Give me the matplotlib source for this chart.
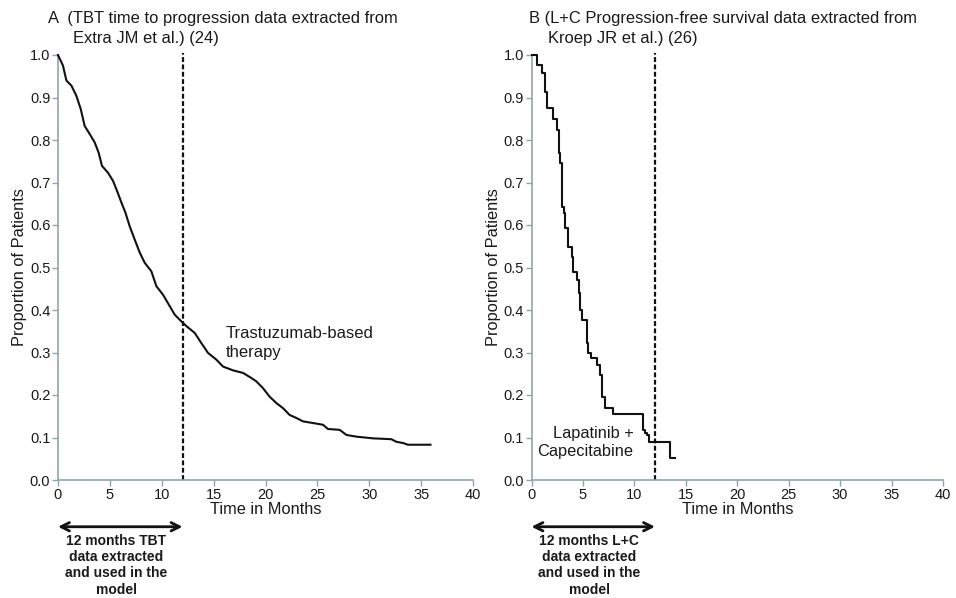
import matplotlib
matplotlib.use("Agg")
import matplotlib.pyplot as plt

plt.rcParams['font.family'] = ['Liberation Sans', 'DejaVu Sans']

# Panel A: trastuzumab-based therapy, time to progression (Extra JM et al.)
tbt_months = [0, 0.48, 0.81, 1.29, 1.77, 2.19, 2.57, 3.06, 3.54, 3.92, 4.24, 4.82,
              5.3, 5.63, 6.11, 6.5, 6.91, 7.39, 7.88, 8.36, 9.0, 9.48, 10.12, 10.77,
              11.25, 11.9, 12.38, 13.18, 13.82, 14.46, 15.27, 15.9, 16.87, 17.83,
              18.64, 19.12, 19.76, 20.4, 21.05, 21.69, 22.33, 22.97, 23.61, 24.58,
              25.54, 26.02, 27.15, 27.8, 28.76, 30.36, 32.13, 32.6, 33.25, 33.73, 35.9]
tbt_surv = [1.0, 0.975, 0.94, 0.928, 0.904, 0.873, 0.833, 0.814, 0.794, 0.77, 0.739, 0.723,
            0.704, 0.684, 0.653, 0.629, 0.597, 0.566, 0.535, 0.511, 0.491, 0.456, 0.436, 0.409,
            0.389, 0.373, 0.362, 0.346, 0.322, 0.299, 0.283, 0.267, 0.258, 0.252,
            0.24, 0.232, 0.216, 0.196, 0.181, 0.169, 0.153, 0.146, 0.138, 0.134,
            0.13, 0.12, 0.118, 0.106, 0.102, 0.098, 0.096, 0.09, 0.087, 0.083, 0.083]

# Panel B: lapatinib + capecitabine, progression-free survival (Kroep JR et al.)
lc_months = [0, 0.57, 0.99, 1.31, 1.47, 2.12, 2.44, 2.7, 2.8, 2.93, 2.99, 3.16, 3.25,
             3.57, 3.9, 4.0, 4.45, 4.6, 4.7, 4.87, 5.36, 5.5, 5.75, 6.33, 6.65, 6.82,
             7.14, 7.94, 10.86, 11.05, 11.24, 11.4, 13.45, 13.93]
lc_surv = [1.0, 0.976, 0.957, 0.914, 0.875, 0.849, 0.824, 0.77, 0.745, 0.729, 0.643, 0.628,
           0.592, 0.549, 0.525, 0.49, 0.47, 0.441, 0.40, 0.376, 0.322, 0.30, 0.286, 0.27,
           0.248, 0.196, 0.169, 0.155, 0.118, 0.11, 0.106, 0.09, 0.051, 0.051]

cutoff_month = 12
x_ticks = list(range(0, 41, 5))
y_ticks = [i / 10 for i in range(11)]

panels = [
    dict(t=tbt_months, s=tbt_surv, style="default",
         title1="A  (TBT time to progression data extracted from",
         title2="Extra JM et al.) (24)",
         label="Trastuzumab-based\ntherapy",
         note="12 months TBT\ndata extracted\nand used in the\nmodel"),
    dict(t=lc_months, s=lc_surv, style="steps-post",
         title1="B (L+C Progression-free survival data extracted from",
         title2="Kroep JR et al.) (26)",
         label="Lapatinib +\nCapecitabine",
         note="12 months L+C\ndata extracted\nand used in the\nmodel"),
]

W, H = 956, 598
fig = plt.figure(figsize=(W / 100, H / 100), dpi=100)

spine_col = "#8ea6ab"
text_col = "#1a1a1a"
axes_px = [(58, 473), (531.5, 943)]
top_px, bot_px = 55, 480
title_px = [(48, 73), (529, 548)]

for i, p in enumerate(panels):
    l, r = axes_px[i]
    ax = fig.add_axes([l / W, 1 - bot_px / H, (r - l) / W, (bot_px - top_px) / H])
    ax.plot(p["t"], p["s"], drawstyle=p["style"], color="#111111", lw=1.5,
            clip_on=False, zorder=3)
    ax.plot([cutoff_month, cutoff_month], [0, 1.005], color="#111111", lw=1.6,
            dashes=(2.2, 1.1), clip_on=False, zorder=2)

    ax.set_xlim(0, 40)
    ax.set_ylim(0, 1.0)
    ax.set_xticks(x_ticks)
    ax.set_yticks(y_ticks)
    ax.set_yticklabels([f"{v:.1f}" for v in y_ticks])
    for side in ("top", "right"):
        ax.spines[side].set_visible(False)
    for side in ("left", "bottom"):
        ax.spines[side].set_color(spine_col)
        ax.spines[side].set_linewidth(1.2)
    ax.tick_params(axis="both", direction="out", length=4, width=1.0,
                   color=spine_col, labelsize=10.5, labelcolor=text_col, pad=1.5)
    ax.set_xlabel("Time in Months", fontsize=11.8, color=text_col, labelpad=0)
    ax.set_ylabel("Proportion of Patients", fontsize=11.8, color=text_col, labelpad=2)

    if i == 0:
        ax.text(16.2, 0.322, p["label"], fontsize=12, color=text_col,
                ha="left", va="center", linespacing=1.3)
    else:
        ax.text(9.9, 0.088, p["label"], fontsize=11.8, color=text_col,
                ha="right", va="center", linespacing=1.2)

    # bracket showing the extracted 12-month window
    ax.annotate("", xy=(0, -0.11), xytext=(cutoff_month, -0.11),
                xycoords=("data", "axes fraction"), textcoords=("data", "axes fraction"),
                arrowprops=dict(arrowstyle="<->,head_length=0.6,head_width=0.3",
                                lw=2.0, color="#111111", shrinkA=0, shrinkB=0),
                annotation_clip=False)
    ax.text(5.6, -0.127, p["note"], transform=ax.get_xaxis_transform(),
            fontsize=10, fontweight="bold", color=text_col, ha="center", va="top",
            linespacing=1.2, clip_on=False)

    t1x, t2x = title_px[i]
    fig.text(t1x / W, 1 - 18 / H, p["title1"], fontsize=11.9, color=text_col,
             ha="left", va="center")
    fig.text(t2x / W, 1 - 39 / H, p["title2"], fontsize=11.9, color=text_col,
             ha="left", va="center")

fig.savefig("out.png", dpi=100)
